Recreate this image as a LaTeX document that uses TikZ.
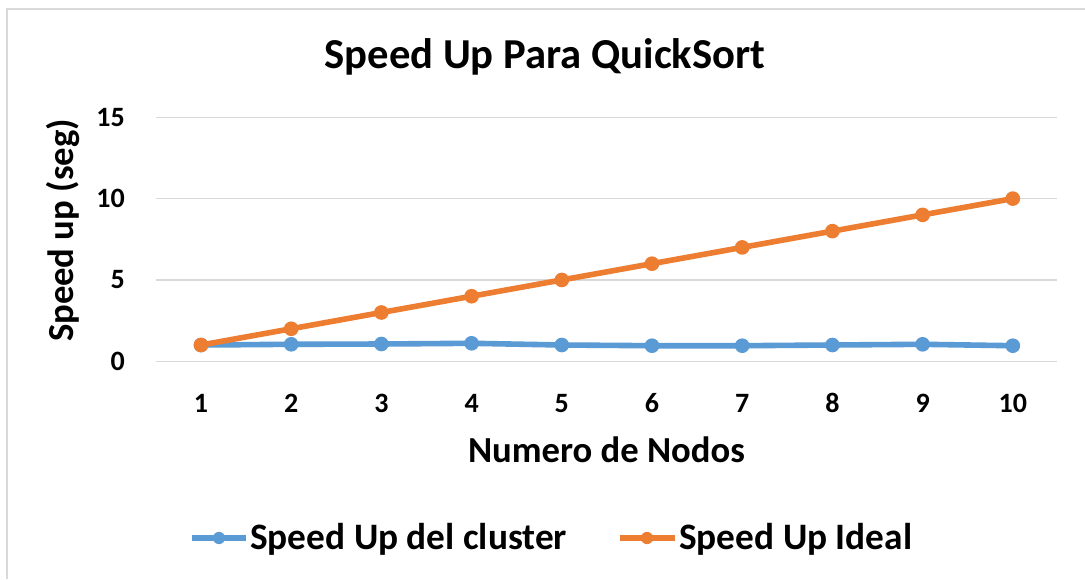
\documentclass[tikz,border=0pt]{standalone}
\usepackage{fontspec}
\setmainfont{Carlito}
\definecolor{cblue}{HTML}{5B9BD5}
\definecolor{corange}{HTML}{ED7D31}
\definecolor{gridc}{HTML}{D9D9D9}
\begin{document}
\begin{tikzpicture}[x=0.75pt,y=-0.75pt,
  frameline/.style={draw=gridc,line width=1.8pt},
  gridline/.style={draw=gridc,line width=1.1pt},
  ticklab/.style={font=\fontsize{21}{23}\selectfont\bfseries,inner sep=0pt},
  axtitle/.style={font=\fontsize{27.5}{30}\selectfont\bfseries,inner sep=0pt,anchor=base},
  legtext/.style={font=\fontsize{28}{30}\selectfont\bfseries,inner sep=0pt,anchor=base west},
  series/.style={line width=4.2pt,line join=round,line cap=round},
  mk/.style={radius=5.5pt}]
\useasboundingbox (0,0) rectangle (1085,579);
\fill[white] (0,0) rectangle (1085,579);
\draw[frameline] (7,579) -- (7,9) -- (1085,9);
% gridlines
\foreach \yy in {361.3,280,198.7,117.4}
  \draw[gridline] (156,\yy) -- (1057,\yy);
% y tick labels
\node[ticklab,anchor=east] (y0) at (125,361.3) {0};
\node[ticklab,anchor=east] (y5) at (125,280) {5};
\node[ticklab,anchor=east] (y10) at (125,198.7) {10};
\node[ticklab,anchor=east] (y15) at (125,117.4) {15};
% x tick labels
\foreach \i in {1,...,10}
  \node[ticklab,anchor=base] (x\i) at ({201+(\i-1)*90.2},412) {\i};
% titles
\node[font=\fontsize{32}{36}\selectfont\bfseries,inner sep=0pt,anchor=base] (title) at (545,68) {Speed Up Para QuickSort};
\node[axtitle] (xtitle) at (606.5,462) {Numero de Nodos};
\node[axtitle,rotate=90] (ytitle) at (73,230.5) {Speed up (seg)};
% data coordinates
\foreach \i/\yy in {1/345,2/344.3,3/344,4/343.3,5/345,6/345.7,7/345.7,8/345,9/344.3,10/345.7}
  \coordinate (b\i) at ({201+(\i-1)*90.2},\yy);
\foreach \i in {1,...,10}
  \coordinate (o\i) at ({201+(\i-1)*90.2},{361.3-\i*16.27});
% blue series
\draw[series,cblue] (b1) -- (b2) -- (b3) -- (b4) -- (b5) -- (b6) -- (b7) -- (b8) -- (b9) -- (b10);
\foreach \i in {1,...,10} \fill[cblue] (b\i) circle[mk];
% orange series
\draw[series,corange] (o1) -- (o2) -- (o3) -- (o4) -- (o5) -- (o6) -- (o7) -- (o8) -- (o9) -- (o10);
\foreach \i in {1,...,10} \fill[corange] (o\i) circle[mk];
% legend
\coordinate (lb1) at (192,538);
\coordinate (lb2) at (246,538);
\coordinate (lbm) at (219,538);
\draw[series,cblue,line cap=butt] (lb1) -- (lb2);
\fill[cblue] (lbm) circle[radius=4.6pt];
\node[legtext] (leg1) at (250,549) {Speed Up del cluster};
\coordinate (lo1) at (620,538);
\coordinate (lo2) at (675,538);
\coordinate (lom) at (647,538);
\draw[series,corange,line cap=butt] (lo1) -- (lo2);
\fill[corange] (lom) circle[radius=4.6pt];
\node[legtext] (leg2) at (679,549) {Speed Up Ideal};
\end{tikzpicture}
\end{document}
